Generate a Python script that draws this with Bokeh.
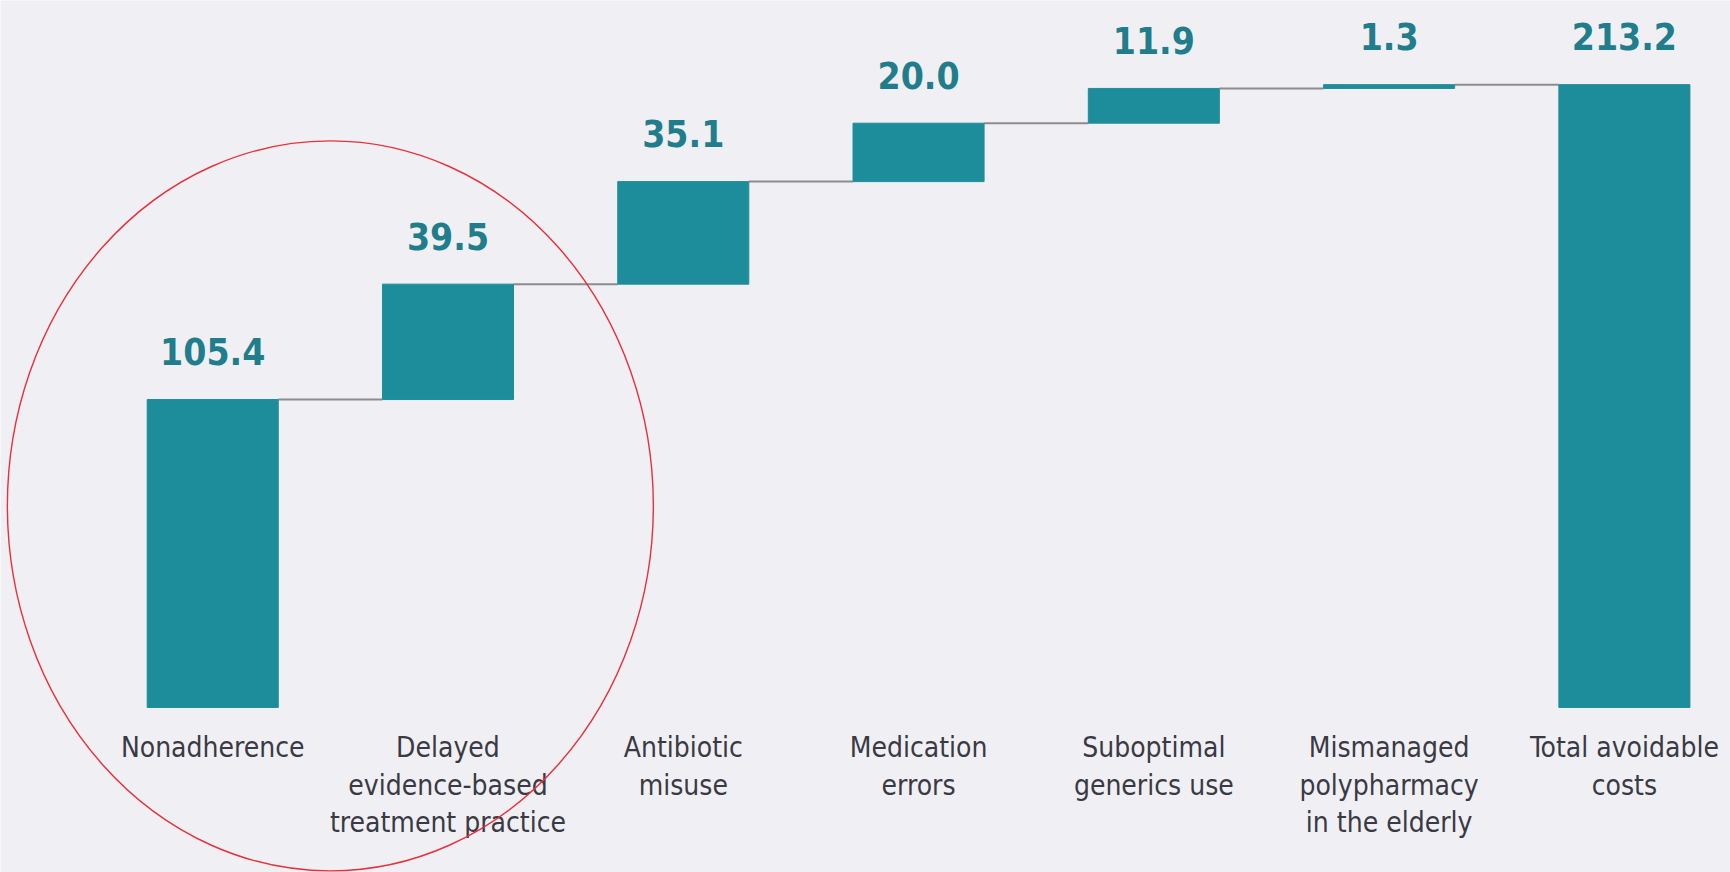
import numpy as np
from bokeh.plotting import figure
from bokeh.models import Range1d, ColumnDataSource
from bokeh.core.properties import value
from bokeh.embed import file_html
from bokeh.resources import INLINE

# ---- data ----
categories = [
    "Nonadherence",
    "Delayed\nevidence-based\ntreatment practice",
    "Antibiotic\nmisuse",
    "Medication\nerrors",
    "Suboptimal\ngenerics use",
    "Mismanaged\npolypharmacy\nin the elderly",
    "Total avoidable\ncosts",
]
step_values = [105.4, 39.5, 35.1, 20.0, 11.9, 1.3]
total_value = 213.2

# ---- derived waterfall geometry ----
n = len(categories)
idx = np.arange(n, dtype=float)
cum = np.cumsum(step_values)
bottoms = list(np.concatenate([[0.0], cum[:-1]])) + [0.0]
tops = list(cum) + [total_value]
labels = [f"{v:.1f}" for v in step_values] + [f"{total_value:.1f}"]

# ---- style ----
BG = "#f0f0f4"
BAR = "#1e8d9b"
VAL = "#1f7d8c"
CAT = "#3a3a44"
FONT = "DejaVu Sans Condensed"
BAR_W = 0.557

p = figure(
    width=1730, height=872,
    x_range=Range1d(-0.902, 6.451),
    y_range=Range1d(-56.5, 242.0),
    output_backend="svg", toolbar_location=None,
    min_border=0, x_axis_location=None, y_axis_location=None,
    background_fill_color=BG, border_fill_color=BG,
)
p.outline_line_color = None
p.grid.grid_line_color = None

src = ColumnDataSource(dict(x=idx, bottom=bottoms, top=tops, label=labels,
                            cat=categories, zero=[0.0] * n))

# connectors
p.segment(x0=idx[:-1] + BAR_W / 2, x1=idx[1:] - BAR_W / 2,
          y0=tops[:-1], y1=tops[:-1], line_color="#8c8c8c", line_width=2)

p.vbar(x="x", bottom="bottom", top="top", width=BAR_W, source=src,
       fill_color=BAR, line_color=BAR, line_width=1)

p.text(x="x", y="top", text="label", source=src, text_align="center",
       text_baseline="alphabetic", y_offset=-48,
       text_font=value(FONT), text_font_style="bold",
       text_font_size="37px", text_color=VAL)

p.text(x="x", y="zero", text="cat", source=src, text_align="center",
       text_baseline="top", y_offset=24, text_line_height=1.13,
       text_font=value(FONT), text_font_size="28px", text_color=CAT)

# red highlight ellipse around the first two categories
p.ellipse(x=0.5, y=69.0, width=646, height=730,
          width_units="screen", height_units="screen",
          fill_alpha=0, line_color="#e8303a", line_width=1.4)

open("out.html", "w").write(file_html(p, INLINE))
